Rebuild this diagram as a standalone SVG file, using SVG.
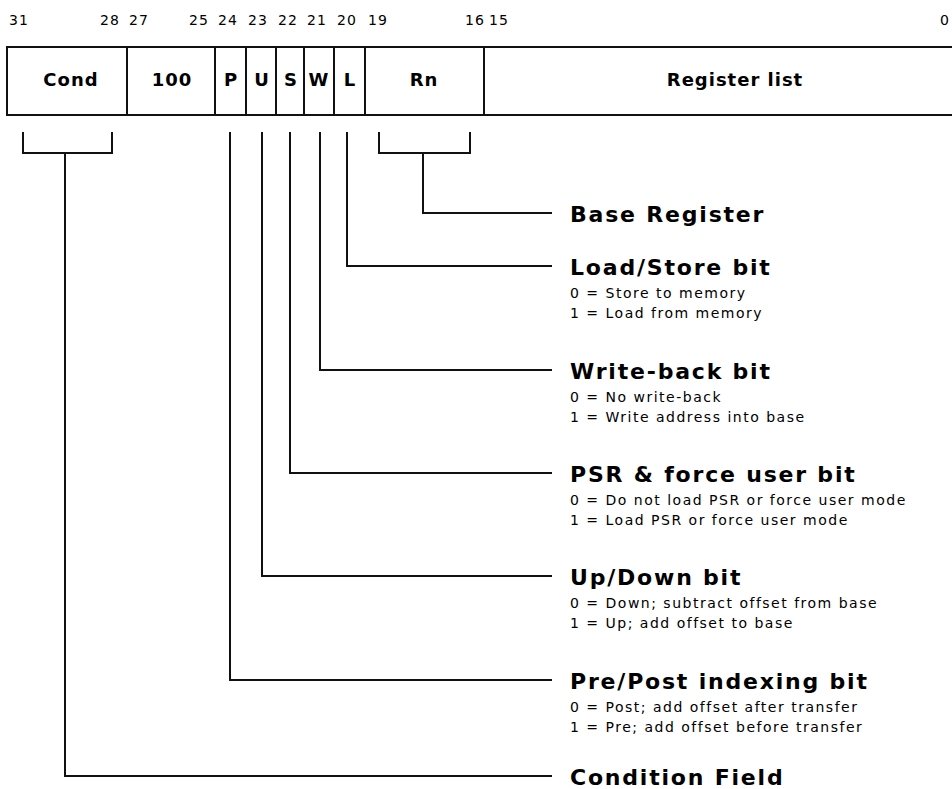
<svg xmlns="http://www.w3.org/2000/svg" width="952" height="789" viewBox="0 0 952 789">
<style>
.cell{fill:#fff;stroke:#111;stroke-width:2}
.f{font-family:"DejaVu Sans","Liberation Sans",sans-serif;font-weight:bold;font-size:18px;letter-spacing:1px;text-anchor:middle;fill:#000}
.n{font-family:"DejaVu Sans","Liberation Sans",sans-serif;font-size:14px;letter-spacing:1px;fill:#000}
.h{font-family:"DejaVu Sans","Liberation Sans",sans-serif;font-weight:bold;font-size:22px;letter-spacing:1.8px;fill:#000}
.d{font-family:"DejaVu Sans","Liberation Sans",sans-serif;font-size:14px;letter-spacing:1.5px;fill:#000}
.c{fill:none;stroke:#111;stroke-width:2}
</style>
<rect width="952" height="789" fill="#fff"/>
<g id="bit-numbers">
<text class="n" x="9" y="25">31</text>
<text class="n" x="100" y="25">28</text>
<text class="n" x="129" y="25">27</text>
<text class="n" x="189" y="25">25</text>
<text class="n" x="218" y="25">24</text>
<text class="n" x="248" y="25">23</text>
<text class="n" x="278" y="25">22</text>
<text class="n" x="307" y="25">21</text>
<text class="n" x="337" y="25">20</text>
<text class="n" x="368" y="25">19</text>
<text class="n" x="465" y="25">16</text>
<text class="n" x="489" y="25">15</text>
<text class="n" x="940" y="25">0</text>
</g>
<g id="field-cond"><rect class="cell" x="7" y="47" width="120" height="68"/><text class="f" x="71" y="86">Cond</text></g>
<g id="field-100"><rect class="cell" x="127" y="47" width="88" height="68"/><text class="f" x="172" y="86">100</text></g>
<g id="field-p"><rect class="cell" x="215" y="47" width="31" height="68"/><text class="f" x="231" y="86">P</text></g>
<g id="field-u"><rect class="cell" x="246" y="47" width="30" height="68"/><text class="f" x="262" y="86">U</text></g>
<g id="field-s"><rect class="cell" x="276" y="47" width="28" height="68"/><text class="f" x="291" y="86">S</text></g>
<g id="field-w"><rect class="cell" x="304" y="47" width="30" height="68"/><text class="f" x="319" y="86">W</text></g>
<g id="field-l"><rect class="cell" x="334" y="47" width="31" height="68"/><text class="f" x="350" y="86">L</text></g>
<g id="field-rn"><rect class="cell" x="365" y="47" width="119" height="68"/><text class="f" x="424" y="86">Rn</text></g>
<g id="field-reglist"><rect class="cell" x="484" y="47" width="480" height="68"/><text class="f" x="735" y="86">Register list</text></g>
<g id="connectors">
<path class="c" d="M23 132V153H112V132"/>
<path class="c" d="M65 153V776H552"/>
<path class="c" d="M379 132V153H470V132"/>
<path class="c" d="M423 153V213H552"/>
<path class="c" d="M347 132V266H552"/>
<path class="c" d="M320 132V370H552"/>
<path class="c" d="M290 132V473H552"/>
<path class="c" d="M262 132V576H552"/>
<path class="c" d="M230 132V680H552"/>
</g>
<g id="label-base"><text class="h" x="570" y="222">Base Register</text></g>
<g id="label-ls"><text class="h" x="570" y="275">Load/Store bit</text>
<text class="d" x="570" y="298">0 = Store to memory</text>
<text class="d" x="570" y="318">1 = Load from memory</text></g>
<g id="label-wb"><text class="h" x="570" y="379">Write-back bit</text>
<text class="d" x="570" y="402">0 = No write-back</text>
<text class="d" x="570" y="422">1 = Write address into base</text></g>
<g id="label-psr"><text class="h" x="570" y="482">PSR &amp; force user bit</text>
<text class="d" x="570" y="505">0 = Do not load PSR or force user mode</text>
<text class="d" x="570" y="525">1 = Load PSR or force user mode</text></g>
<g id="label-ud"><text class="h" x="570" y="585">Up/Down bit</text>
<text class="d" x="570" y="608">0 = Down; subtract offset from base</text>
<text class="d" x="570" y="628">1 = Up; add offset to base</text></g>
<g id="label-pp"><text class="h" x="570" y="689">Pre/Post indexing bit</text>
<text class="d" x="570" y="712">0 = Post; add offset after transfer</text>
<text class="d" x="570" y="732">1 = Pre; add offset before transfer</text></g>
<g id="label-cond"><text class="h" x="570" y="785">Condition Field</text></g>
</svg>
